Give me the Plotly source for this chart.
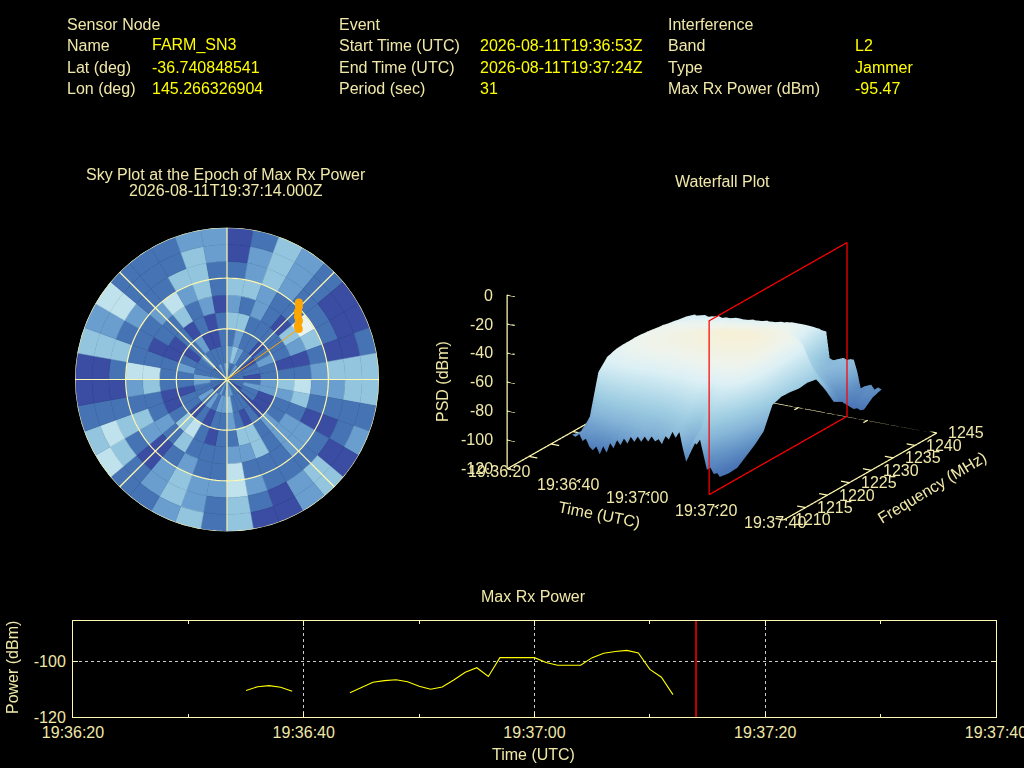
import numpy as np
import plotly.graph_objects as go

PALE = "#f0e8a8"
LINE = "#fff8b0"
YEL = "#ffff00"
FONT = "Liberation Sans"

# ---------- header ----------
hdr_labels = [["Sensor Node", "Name", "Lat (deg)", "Lon (deg)"],
              ["Event", "Start Time (UTC)", "End Time (UTC)", "Period (sec)"],
              ["Interference", "Band", "Type", "Max Rx Power (dBm)"]]
hdr_values = [["", "FARM_SN3", "-36.740848541", "145.266326904"],
              ["", "2026-08-11T19:36:53Z", "2026-08-11T19:37:24Z", "31"],
              ["", "L2", "Jammer", "-95.47"]]

# ---------- sky plot ----------
sky_levels = [
 [2,2,1,3,2,3,1,0,0],[1,3,2,3,1,3,2,2,1],[1,2,1,1,2,2,3,3,3],[2,1,1,1,1,1,2,2,2],
 [1,1,0,1,0,1,1,1,1],[1,0,1,1,3,5,1,0,0],[1,1,2,1,2,3,1,0,0],[1,1,1,0,0,1,0,0,1],
 [1,0,1,1,1,2,3,3,3],[1,1,2,3,4,2,2,3,3],[1,2,2,2,3,1,1,1,1],[1,1,0,1,1,0,0,1,2],
 [0,1,0,1,2,2,1,0,0],[1,0,0,2,2,2,1,3,3],[1,1,1,1,1,1,1,2,2],[1,1,0,3,3,1,1,0,0],
 [2,1,1,3,2,1,2,1,0],[2,3,2,1,2,4,4,3,3],[2,2,1,1,1,1,2,1,1],[1,2,1,0,1,1,2,2,3],
 [2,1,0,1,1,2,3,3,2],[1,2,1,4,3,1,2,2,1],[1,1,0,3,1,0,0,1,1],[0,2,1,1,2,2,1,3,4],
 [1,1,1,0,1,3,3,4,3],[1,1,0,0,1,1,1,1,1],[1,2,1,1,3,2,0,0,0],[2,2,1,1,4,4,1,0,0],
 [1,1,2,1,1,1,3,3,3],[1,1,1,0,0,1,1,2,2],[1,1,0,0,1,1,2,4,4],[0,2,1,1,1,2,1,1,1],
 [1,1,2,0,3,4,1,1,1],[2,1,0,1,1,2,3,1,1],[1,1,0,0,2,3,3,3,2],[2,1,1,1,0,1,1,2,2]]
sky_palette = ["#3a4da2", "#4673b3", "#6a9ecf", "#93c5df", "#bfe2ec", "#e8f3ef"]
track_az = [43, 44.6, 46.3, 48.5, 50.8, 52.9, 54.8]
track_r  = [62.4, 60.7, 58.1, 56.1, 55, 52.6, 52]
ray_az = [54.8, 54.8]
ray_r = [0, 52]
grid_rings = [30, 60, 90]
grid_spokes = [0, 45, 90, 135, 180, 225, 270, 315]

# ---------- waterfall ----------
wf_freq = [1213,1215,1217,1219,1221,1223,1225,1227,1229,1231,1233,1235,1237,1239,1241,1243,1245]
wf_time = list(range(15, 65))
_ = None
wf_by_time = [
 [-95,-96,-90,-62,-55,-53,-53,-53,-54,-54,-55,-56,-57,-58,-60,-68,-73],
 [-96,-95,-84,-58,-53,-51,-51,-51,-52,-53,-53,-55,-56,-57,-61,-67,-72],
 [-93,-92,-78,-56,-51,-49,-49,-49,-50,-51,-52,-53,-55,-58,-60,-66,-73],
 [-98,-91,-76,-58,-50,-48,-47,-48,-49,-50,-51,-53,-54,-56,-59,-66,-71],
 [-96,-90,-74,-58,-49,-47,-46,-46,-47,-48,-50,-52,-55,-56,-60,-65,-72],
 [-101,-89,-73,-57,-49,-46,-45,-45,-46,-48,-49,-52,-53,-57,-59,-65,-70],
 [-103,-88,-72,-57,-48,-45,-44,-45,-46,-47,-49,-51,-53,-56,-59,-64,-71],
 [-100,-87,-73,-56,-48,-45,-44,-44,-45,-47,-48,-51,-54,-55,-58,-65,-70],
 [-105,-86,-72,-56,-47,-44,-43,-44,-45,-46,-48,-50,-53,-55,-59,-64,-71],
 [-99,-85,-71,-57,-47,-44,-43,-43,-45,-46,-48,-50,-52,-56,-58,-63,-69],
 [-103,-84,-71,-57,-46,-43,-42,-43,-44,-46,-47,-50,-52,-55,-58,-63,-70],
 [-96,-85,-70,-56,-46,-43,-42,-42,-44,-45,-47,-49,-53,-54,-58,-64,-69],
 [-99,-85,-70,-56,-45,-42,-41,-42,-44,-45,-47,-49,-52,-54,-57,-63,-70],
 [-93,-84,-71,-57,-45,-42,-41,-41,-43,-45,-46,-49,-51,-55,-57,-62,-68],
 [-96,-83,-71,-58,-45,-41,-40,-41,-43,-45,-46,-49,-51,-54,-58,-63,-69],
 [-91,-83,-70,-57,-45,-41,-40,-40,-43,-44,-46,-48,-52,-53,-57,-62,-68],
 [-94,-82,-70,-57,-44,-40,-39,-40,-43,-44,-46,-48,-51,-54,-57,-62,-69],
 [-89,-81,-69,-58,-45,-40,-39,-39,-42,-44,-45,-48,-50,-53,-56,-63,-67],
 [-92,-81,-69,-58,-46,-40,-38,-39,-42,-43,-45,-48,-51,-53,-57,-61,-68],
 [-88,-80,-70,-57,-45,-39,-38,-38,-41,-43,-45,-47,-50,-52,-56,-62,-67],
 [-91,-80,-70,-57,-45,-39,-37,-38,-41,-43,-45,-47,-50,-53,-56,-61,-67],
 [-87,-81,-69,-56,-44,-38,-37,-37,-40,-42,-44,-47,-49,-52,-55,-61,-66],
 [-90,-82,-69,-56,-44,-38,-36,-37,-40,-42,-44,-47,-50,-52,-56,-60,-66],
 [-86,-81,-68,-57,-44,-37,-36,-36,-39,-41,-44,-46,-49,-51,-55,-60,-67],
 [-89,-80,-68,-57,-44,-37,-35,-36,-39,-41,-44,-46,-49,-52,-55,-60,-65],
 [-87,-79,-67,-55,-43,-37,-35,-35,-38,-41,-43,-46,-48,-51,-54,-60,-66],
 [-90,-78,-67,-55,-43,-37,-34,-35,-38,-41,-43,-46,-49,-51,-54,-59,-65],
 [-84,-77,-66,-54,-42,-36,-34,-34,-38,-40,-43,-46,-48,-50,-54,-59,-64],
 [-86,-76,-65,-54,-42,-36,-34,-34,-38,-40,-43,-46,-48,-51,-53,-59,-65],
 [-80,-75,-65,-53,-42,-36,-33,-34,-37,-40,-42,-45,-48,-49,-53,-58,-64],
 [-84,-74,-65,-53,-42,-36,-33,-34,-37,-40,-42,-45,-47,-50,-53,-59,-64],
 [-79,-80,-70,-55,-43,-36,-33,-33,-37,-39,-42,-45,-47,-49,-53,-58,-63],
 [-90,-86,-74,-57,-43,-36,-33,-33,-37,-39,-42,-45,-48,-50,-53,-58,-64],
 [-99,-90,-76,-59,-44,-36,-33,-33,-37,-39,-42,-45,-47,-50,-54,-59,-64],
 [-90,-84,-70,-56,-43,-36,-33,-33,-37,-39,-42,-45,-49,-55,-65,-74,-82],
 [-84,-78,-68,-56,-43,-36,-34,-33,-37,-39,-42,-46,-56,-68,-76,-80,-83],
 [-86,-77,-68,-56,-44,-37,-34,-34,-38,-40,-43,-48,-62,-72,-78,-82,-82],
 [-82,-80,-70,-58,-46,-38,-35,-35,-39,-41,-44,-49,-66,-76,-82,-82,-81],
 [-92,-88,-76,-62,-48,-40,-37,-37,-40,-42,-45,-51,-70,-80,-85,-82,-80],
 [-102,-94,-84,-70,-52,-43,-40,-40,-43,-45,-48,-54,-72,-83,-88,-83,-81],
 [-100,-96,-90,-80,-66,-54,-50,-50,-52,-54,-56,-60,-76,-86,-92,-85,-80],
 [-104,-100,-95,-88,-78,-64,-60,-60,-62,-63,-64,-66,-78,-88,-96,-86,-80],
 [-103,-104,-102,-96,-90,-76,-68,-68,-69,-70,-70,-72,-80,-92,-100,-90,-88],
 [-106,-107,-107,-103,-99,-96,-79,-76,-76,-77,-76,-77,-88,-100,-102,-96,-99],
 [_,_,_,_,_,_,_,_,_,_,_,_,_,_,-103,-99,-97],
 [_,_,_,_,_,_,_,_,_,_,_,_,_,_,-104,-100,-96],
 [_,_,_,_,_,_,_,_,_,_,_,_,_,_,-105,-98,-95],
 [_,_,_,_,_,_,_,_,_,_,_,_,_,_,-104,-97,-98],
 [_,_,_,_,_,_,_,_,_,_,_,_,_,_,-105,-98,-96],
 [_,_,_,_,_,_,_,_,_,_,_,_,_,_,-104,-99,-97]]
wf_palette = [[0.00,"#4a74b4"],[0.139,"#6393c6"],[0.278,"#84b3d7"],[0.417,"#9ccbe1"],
              [0.556,"#bcdfec"],[0.694,"#dcf0f5"],[0.833,"#eef4ee"],[1.00,"#f6f0d8"]]
wf_cmin, wf_cmax = -105, -33

time_ticks = [0, 20, 40, 60, 80]
minor_ticks = [10, 30, 50, 70]
time_labels = ["19:36:20", "19:36:40", "19:37:00", "19:37:20", "19:37:40"]
freq_ticks = [1210, 1215, 1220, 1225, 1230, 1235, 1240, 1245]
psd_ticks = [0, -20, -40, -60, -80, -100, -120]
plane_t = [54, 54, 54, 54, 54]
plane_f = [1213.5, 1245, 1245, 1213.5, 1213.5]
plane_z = [-120, -120, 0, 0, -120]

# ---------- max rx power ----------
p_sec = [15,16,17,18,19,None,24,25,26,27,28,29,30,31,32,33,34,35,36,37,38,39,40,41,42,43,44,45,46,47,48,49,50,51,52]
p_dbm = [-110.5,-109.2,-108.8,-109.4,-110.8,None,-111.3,-109.5,-107.6,-107.0,-106.7,-107.4,-109.0,-110.1,-109.3,
         -106.8,-104.0,-102.4,-105.5,-98.8,-98.8,-98.8,-98.8,-100.5,-101.5,-101.5,-101.5,-98.8,-97.2,-96.6,-96.2,-97.1,-103.0,-105.8,-112.0]
epoch_sec = 54

W, H = 1024, 768
def X(p): return p / W
def Y(p): return 1 - p / H

fig = go.Figure()

# sky
lv = np.array(sky_levels)
th, ba, cols = [], [], []
for s in range(lv.shape[0]):
    for r in range(lv.shape[1]):
        th.append(s * 10 + 5); ba.append(r * 10); cols.append(sky_palette[lv[s, r]])
fig.add_trace(go.Barpolar(theta=th, r=[10] * len(th), base=ba, width=[10] * len(th),
                          marker=dict(color=cols, line=dict(color=cols, width=0.5)),
                          subplot="polar", hoverinfo="skip", showlegend=False))
for rr in grid_rings:
    ang = list(range(0, 361, 2))
    fig.add_trace(go.Scatterpolar(theta=ang, r=[rr] * len(ang), mode="lines", line=dict(color=LINE, width=1.2),
                                  subplot="polar", hoverinfo="skip", showlegend=False))
for a in grid_spokes:
    fig.add_trace(go.Scatterpolar(theta=[a, a], r=[0, 90], mode="lines", line=dict(color=LINE, width=1.2),
                                  subplot="polar", hoverinfo="skip", showlegend=False))
fig.add_trace(go.Scatterpolar(theta=ray_az, r=ray_r, mode="lines", line=dict(color="#ffa500", width=1),
                              subplot="polar", hoverinfo="skip", showlegend=False))
fig.add_trace(go.Scatterpolar(theta=track_az, r=track_r, mode="markers", marker=dict(color="#ffa500", size=8),
                              subplot="polar", hoverinfo="skip", showlegend=False))

# waterfall
fig.add_trace(go.Surface(x=wf_time, y=wf_freq, z=np.array(wf_by_time, dtype=float).T.tolist(), colorscale=wf_palette,
                         cmin=wf_cmin, cmax=wf_cmax, showscale=False, scene="scene", hoverinfo="skip",
                         lighting=dict(ambient=1, diffuse=0, specular=0, roughness=1, fresnel=0)))
ax_x, ax_y, ax_z = [], [], []
def seg(a, b):
    ax_x.extend([a[0], b[0], None]); ax_y.extend([a[1], b[1], None]); ax_z.extend([a[2], b[2], None])
seg((0, 1210, -120), (80, 1210, -120))
seg((0, 1245, -120), (80, 1245, -120))
seg((0, 1210, -120), (0, 1245, -120))
seg((80, 1210, -120), (80, 1245, -120))
seg((0, 1210, -120), (0, 1210, 0))
for t in time_ticks:
    seg((t, 1210, -120), (t, 1211, -120))
    seg((t, 1245, -120), (t, 1244, -120))
for f in freq_ticks:
    seg((0, f, -120), (2.4, f, -120))
    seg((80, f, -120), (77.6, f, -120))
for z in psd_ticks:
    seg((0, 1210, z), (2.2, 1210, z))
fig.add_trace(go.Scatter3d(x=ax_x, y=ax_y, z=ax_z, mode="lines", line=dict(color=LINE, width=2.5),
                           scene="scene", hoverinfo="skip", showlegend=False))
fig.add_trace(go.Scatter3d(x=plane_t, y=plane_f, z=plane_z, mode="lines", line=dict(color="#ff0000", width=2.5),
                           scene="scene2", hoverinfo="skip", showlegend=False))

# power
base_t = np.datetime64("2026-08-11T19:36:20")
def T(s): return str(base_t + np.timedelta64(int(s), "s")).replace("T", " ")
fig.add_trace(go.Scatter(x=[T(s) if s is not None else None for s in p_sec], y=p_dbm, mode="lines",
                         line=dict(color=YEL, width=1.1), connectgaps=False,
                         xaxis="x", yaxis="y", hoverinfo="skip", showlegend=False))
fig.add_trace(go.Scatter(x=[T(epoch_sec), T(epoch_sec)], y=[-120, -85.7], mode="lines",
                         line=dict(color="#ff0000", width=1.5), xaxis="x", yaxis="y",
                         hoverinfo="skip", showlegend=False))

ann = []
def txt(x, y, s, color=PALE, size=16, anchor="left", angle=0):
    ann.append(dict(x=X(x), y=Y(y), xref="paper", yref="paper", text=s, showarrow=False,
                    xanchor=anchor, yanchor="middle", textangle=angle, font=dict(family=FONT, size=size, color=color)))
rows_y = [24, 45, 67, 89]
col_x = [(65, 150), (337, 478), (666, 853)]
for c, (lx, vx) in enumerate(col_x):
    for r, y in enumerate(rows_y):
        txt(lx, y, hdr_labels[c][r])
        if hdr_values[c][r]:
            txt(vx, y, hdr_values[c][r], color=YEL)
txt(226, 174, "Sky Plot at the Epoch of Max Rx Power", anchor="center")
txt(226, 190, "2026-08-11T19:37:14.000Z", anchor="center")
txt(722, 181, "Waterfall Plot", anchor="center")
txt(533, 596, "Max Rx Power", anchor="center")
txt(533, 754, "Time (UTC)", anchor="center")
txt(12, 668, "Power (dBm)", anchor="center", angle=-90)
txt(443, 382, "PSD (dBm)", anchor="center", angle=-90)
txt(599, 514, "Time (UTC)", anchor="center", angle=11)
txt(932, 487, "Frequency (MHz)", anchor="center", angle=-31)

scene_ann = []
for t, l in zip(time_ticks, time_labels):
    scene_ann.append(dict(x=t, y=1210, z=-120, text=l, showarrow=False, xshift=-8, yshift=-3,
                          font=dict(family=FONT, size=16, color=PALE)))
for f in freq_ticks:
    scene_ann.append(dict(x=80, y=f, z=-120, text=str(f), showarrow=False, xshift=30, yshift=0,
                          font=dict(family=FONT, size=16, color=PALE)))
for z in psd_ticks:
    scene_ann.append(dict(x=0, y=1210, z=z, text=str(z), showarrow=False, xanchor="right", xshift=-12,
                          font=dict(family=FONT, size=16, color=PALE)))

eye = dict(x=0.469 * 2.5, y=-0.822 * 2.5, z=0.324 * 2.5)
scene_common = dict(bgcolor="rgba(0,0,0,0)", aspectmode="manual", aspectratio=dict(x=1.819, y=1.767, z=1.05),
                    xaxis=dict(visible=False, range=[0, 80]), yaxis=dict(visible=False, range=[1210, 1245]),
                    zaxis=dict(visible=False, range=[-120, 0]),
                    camera=dict(eye=eye, up=dict(x=0, y=0, z=1), center=dict(x=0, y=0, z=0),
                                projection=dict(type="orthographic")),
                    domain=dict(x=[X(430.5), X(1012.5)], y=[Y(539), Y(189)]))
scene1 = dict(scene_common); scene1["annotations"] = scene_ann

fig.update_layout(
    template="none",
    width=W, height=H, margin=dict(l=0, r=0, t=0, b=0, autoexpand=False), paper_bgcolor="#000", plot_bgcolor="#000",
    showlegend=False, annotations=ann, font=dict(family=FONT, size=16, color=PALE),
    polar=dict(domain=dict(x=[X(75), X(379)], y=[Y(531.5), Y(227.5)]), bgcolor="#000", sector=[0, 360],
               radialaxis=dict(range=[0, 90], visible=False),
               angularaxis=dict(direction="clockwise", rotation=90, visible=False), barmode="overlay"),
    scene=scene1, scene2=scene_common,
    xaxis=dict(domain=[X(73), X(996)], anchor="y", range=[T(0), T(80)], type="date", automargin=False,
               tickvals=[T(s) for s in time_ticks], ticktext=time_labels, ticks="inside", ticklen=5, tickcolor=LINE,
               ticklabeloverflow="allow", ticklabelstandoff=1,
               minor=dict(tickvals=[T(s) for s in minor_ticks], ticks="inside", ticklen=3, tickcolor=LINE, showgrid=False),
               showgrid=True, gridcolor="#cccccc", griddash="dot", gridwidth=1, zeroline=False,
               showline=True, linecolor=LINE, linewidth=1, mirror="ticks", tickfont=dict(family=FONT, size=16, color=PALE)),
    yaxis=dict(domain=[Y(717), Y(621)], anchor="x", range=[-120, -85.7], tickvals=[-120, -100], ticktext=["-120", "-100"], automargin=False,
               ticks="inside", ticklen=5, tickcolor=LINE, showgrid=True, gridcolor="#cccccc", griddash="dot",
               ticklabelstandoff=3,
               zeroline=False, showline=True, linecolor=LINE, linewidth=1, mirror="ticks",
               tickfont=dict(family=FONT, size=16, color=PALE)),
)
fig.write_html("out.html", config=dict(displayModeBar=False),
               post_script="document.body.style.margin='0';document.body.style.background='#000';")
